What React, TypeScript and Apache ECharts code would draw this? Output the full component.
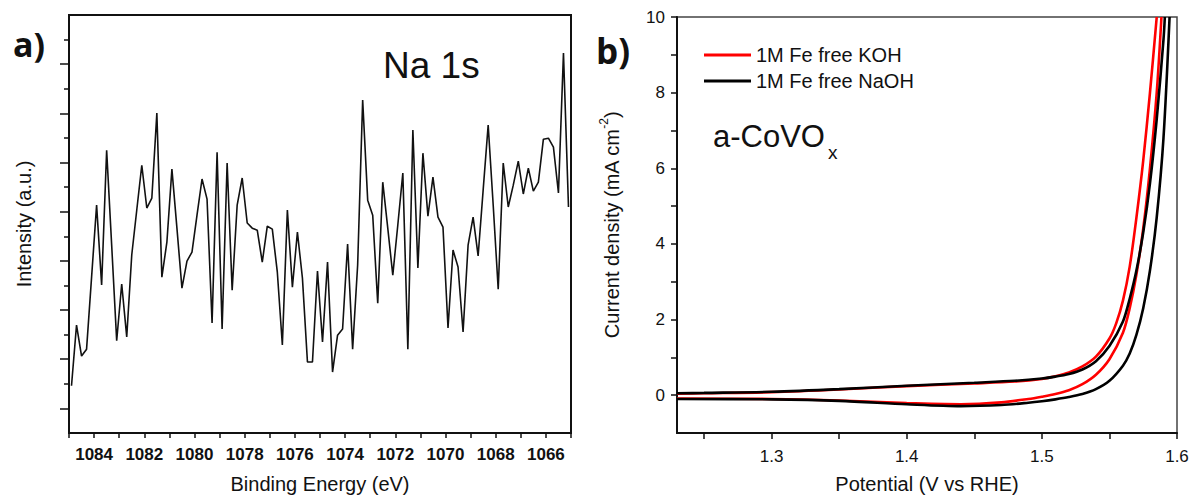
import React, { useEffect, useRef } from "react";
import * as echarts from "echarts";

// ---------- Panel a: Na 1s XPS ----------
const energyA = [
  1084.9, 1084.7, 1084.5, 1084.3, 1084.1, 1083.9, 1083.7, 1083.5, 1083.3, 1083.1,
  1082.9, 1082.7, 1082.5, 1082.3, 1082.1, 1081.9, 1081.7, 1081.5, 1081.3, 1081.1,
  1080.9, 1080.7, 1080.5, 1080.3, 1080.1, 1079.9, 1079.7, 1079.5, 1079.3, 1079.1,
  1078.9, 1078.7, 1078.5, 1078.3, 1078.1, 1077.9, 1077.7, 1077.5, 1077.3, 1077.1,
  1076.9, 1076.7, 1076.5, 1076.3, 1076.1, 1075.9, 1075.7, 1075.5, 1075.3, 1075.1,
  1074.9, 1074.7, 1074.5, 1074.3, 1074.1, 1073.9, 1073.7, 1073.5, 1073.3, 1073.1,
  1072.9, 1072.7, 1072.5, 1072.3, 1072.1, 1071.9, 1071.7, 1071.5, 1071.3, 1071.1,
  1070.9, 1070.7, 1070.5, 1070.3, 1070.1, 1069.9, 1069.7, 1069.5, 1069.3, 1069.1,
  1068.9, 1068.7, 1068.5, 1068.3, 1068.1, 1067.9, 1067.7, 1067.5, 1067.3, 1067.1,
  1066.9, 1066.7, 1066.5, 1066.3, 1066.1, 1065.9, 1065.7, 1065.5, 1065.3, 1065.1,
];
const intensityA = [
  1.92, 4.39, 3.13, 3.41, 6.34, 9.27, 6.02, 11.5, 7.64, 3.75,
  6.06, 3.91, 7.24, 9.07, 10.89, 9.15, 9.55, 13.01, 6.34, 7.76,
  10.73, 8.33, 5.89, 6.99, 7.36, 8.86, 10.33, 9.51, 4.47, 11.42,
  4.23, 10.98, 5.81, 9.27, 10.37, 8.54, 8.33, 8.25, 6.95, 8.41,
  8.29, 6.54, 3.58, 9.07, 5.93, 8.17, 6.3, 2.89, 2.89, 6.59,
  3.7, 6.95, 2.48, 3.98, 4.23, 7.68, 3.41, 6.83, 13.54, 9.47,
  8.86, 5.28, 10.2, 8.33, 6.42, 8.46, 10.57, 3.41, 12.32, 6.71,
  11.38, 8.82, 10.41, 8.78, 8.37, 4.27, 7.44, 6.75, 4.11, 7.64,
  8.78, 7.2, 9.88, 12.52, 9.27, 5.85, 10.98, 9.19, 10.08, 11.06,
  9.72, 10.77, 9.84, 10.2, 11.95, 11.99, 11.63, 9.76, 15.45, 9.19,
];
const xTicksA = [
  1065, 1066, 1067, 1068, 1069, 1070, 1071, 1072, 1073, 1074, 1075,
  1076, 1077, 1078, 1079, 1080, 1081, 1082, 1083, 1084, 1085,
];
const xLabelsA = [1066, 1068, 1070, 1072, 1074, 1076, 1078, 1080, 1082, 1084];
const yMajorTicksA = [1, 3, 5, 7, 9, 11, 13, 15];
const yMinorTicksA = [2, 4, 6, 8, 10, 12, 14, 16];

// ---------- Panel b: polarisation curves ----------
const kohUpX = [1.23, 1.25, 1.3, 1.35, 1.4, 1.45, 1.48, 1.5, 1.51, 1.52, 1.53, 1.54, 1.55, 1.555, 1.56, 1.565, 1.57, 1.575, 1.58, 1.585];
const kohUpY = [0.04, 0.05, 0.08, 0.15, 0.24, 0.31, 0.36, 0.43, 0.5, 0.6, 0.76, 1.02, 1.5, 1.9, 2.5, 3.4, 4.7, 6.2, 8.0, 10];
const kohDownX = [1.23, 1.3, 1.35, 1.4, 1.44, 1.47, 1.49, 1.5, 1.51, 1.52, 1.53, 1.54, 1.55, 1.56, 1.565, 1.57, 1.575, 1.58, 1.585, 1.5885];
const kohDownY = [-0.09, -0.1, -0.14, -0.21, -0.24, -0.19, -0.1, -0.04, 0.03, 0.13, 0.29, 0.54, 0.95, 1.65, 2.3, 3.2, 4.4, 6.0, 8.0, 10];
const naohUpX = [1.23, 1.25, 1.3, 1.35, 1.4, 1.45, 1.48, 1.5, 1.51, 1.52, 1.53, 1.54, 1.55, 1.56, 1.565, 1.57, 1.575, 1.58, 1.585, 1.59, 1.591];
const naohUpY = [0.05, 0.06, 0.09, 0.16, 0.25, 0.33, 0.38, 0.44, 0.49, 0.56, 0.68, 0.9, 1.3, 1.95, 2.55, 3.3, 4.3, 5.6, 7.3, 9.4, 10];
const naohDownX = [1.23, 1.3, 1.35, 1.4, 1.44, 1.47, 1.49, 1.5, 1.51, 1.52, 1.53, 1.54, 1.55, 1.56, 1.565, 1.57, 1.575, 1.58, 1.585, 1.59, 1.5945];
const naohDownY = [-0.1, -0.11, -0.15, -0.24, -0.29, -0.26, -0.2, -0.16, -0.11, -0.05, 0.03, 0.16, 0.38, 0.78, 1.1, 1.6, 2.3, 3.3, 4.7, 6.8, 10];
const xTicksB = [1.25, 1.3, 1.35, 1.4, 1.45, 1.5, 1.55, 1.6];
const xLabelsB = [1.3, 1.4, 1.5, 1.6];
const yTicksB = [0, 1, 2, 3, 4, 5, 6, 7, 8, 9, 10];
const yLabelsB = [0, 2, 4, 6, 8, 10];
const seriesNames = ["1M Fe free KOH", "1M Fe free NaOH"];

const FONT = '"Liberation Sans", Arial, sans-serif';
const INK = "#111";

const zip = (xs: number[], ys: number[]) => xs.map((x, i) => [x, ys[i]]);

export default function App() {
  const ref = useRef<HTMLDivElement>(null);
  useEffect(() => {
    if (!ref.current) return;
    const chart = echarts.init(ref.current, null, { renderer: "svg" });
    const axisLine = { show: true, onZero: false, lineStyle: { color: INK, width: 2 } };
    const curve = (name: string, xs: number[], ys: number[], color: string) => ({
      type: "line",
      name,
      xAxisIndex: 1,
      yAxisIndex: 2,
      data: zip(xs, ys),
      symbol: "none",
      smooth: 0.3,
      color,
      lineStyle: { color, width: 2.6 },
    });
    const option: any = {
      animation: false,
      backgroundColor: "#fff",
      textStyle: { fontFamily: FONT },
      grid: [
        { left: 69, right: 619, top: 15, bottom: 64, show: true, borderColor: INK, borderWidth: 2, containLabel: false, outerBoundsMode: "none" },
        { left: 677, right: 13, top: 17, bottom: 64, show: true, borderColor: "#444", borderWidth: 1.5, containLabel: false, outerBoundsMode: "none" },
      ],
      legend: {
        orient: "vertical",
        left: 699,
        top: 40,
        itemWidth: 47,
        itemHeight: 3,
        icon: "rect",
        itemGap: 6,
        selectedMode: false,
        textStyle: { fontSize: 20, color: INK, fontFamily: FONT, lineHeight: 20 },
        data: seriesNames,
      },
      xAxis: [
        {
          gridIndex: 0,
          type: "value",
          min: 1065,
          max: 1085,
          interval: 1,
          inverse: true,
          axisLine,
          axisTick: { show: true, length: 5, customValues: xTicksA, lineStyle: { color: INK, width: 1.5 } },
          axisLabel: {
            customValues: xLabelsA,
            formatter: (v: number) => String(v),
            fontSize: 17,
            fontWeight: "bold",
            color: INK,
            margin: 13,
            fontFamily: FONT,
          },
          splitLine: { show: false },
          name: "Binding Energy (eV)",
          nameLocation: "middle",
          nameGap: 41,
          nameTextStyle: { fontSize: 20, color: INK, fontFamily: FONT },
        },
        {
          gridIndex: 1,
          type: "value",
          min: 1.23,
          max: 1.6,
          axisLine,
          axisTick: { show: true, length: 6, customValues: xTicksB, lineStyle: { color: INK, width: 1.5 } },
          axisLabel: {
            customValues: xLabelsB,
            formatter: (v: number) => v.toFixed(1),
            fontSize: 17,
            color: INK,
            margin: 15,
            fontFamily: FONT,
          },
          splitLine: { show: false },
          name: "Potential (V vs RHE)",
          nameLocation: "middle",
          nameGap: 41,
          nameTextStyle: { fontSize: 20, color: INK, fontFamily: FONT },
        },
      ],
      yAxis: [
        {
          gridIndex: 0,
          type: "value",
          position: "left",
          min: 0,
          max: 17,
          axisLine,
          axisTick: { show: true, length: 9, customValues: yMajorTicksA, lineStyle: { color: INK, width: 1.5 } },
          axisLabel: { show: false },
          splitLine: { show: false },
          name: "Intensity (a.u.)",
          nameLocation: "middle",
          nameGap: 35,
          nameTextStyle: { fontSize: 20, color: INK, fontFamily: FONT },
        },
        {
          gridIndex: 0,
          type: "value",
          position: "left",
          offset: 0,
          min: 0,
          max: 17,
          axisLine: { show: false },
          axisTick: { show: true, length: 5, customValues: yMinorTicksA, lineStyle: { color: INK, width: 1.5 } },
          axisLabel: { show: false },
          splitLine: { show: false },
        },
        {
          gridIndex: 1,
          type: "value",
          position: "left",
          min: -1,
          max: 10,
          axisLine,
          axisTick: { show: true, length: 6, customValues: yTicksB, lineStyle: { color: INK, width: 1.5 } },
          axisLabel: { customValues: yLabelsB, fontSize: 17, color: INK, margin: 12, fontFamily: FONT },
          splitLine: { show: false },
          name: "{t|Current density (mA cm}{s|-2}{t|)}",
          nameLocation: "middle",
          nameGap: 55,
          nameTextStyle: {
            color: INK,
            fontFamily: FONT,
            rich: {
              t: { fontSize: 20, lineHeight: 24, color: INK, fontFamily: FONT, verticalAlign: "bottom" },
              s: { fontSize: 12, color: INK, fontFamily: FONT, verticalAlign: "top" },
            },
          },
        },
      ],
      series: [
        {
          type: "line",
          name: "Na 1s",
          xAxisIndex: 0,
          yAxisIndex: 0,
          data: zip(energyA, intensityA),
          symbol: "none",
          lineStyle: { color: INK, width: 1.6 },
        },
        curve(seriesNames[0], kohUpX, kohUpY, "#ff0000"),
        curve(seriesNames[0], kohDownX, kohDownY, "#ff0000"),
        curve(seriesNames[1], naohUpX, naohUpY, "#000000"),
        curve(seriesNames[1], naohDownX, naohDownY, "#000000"),
      ],
      graphic: [
        { type: "text", x: 13, y: 44, style: { text: "a)", fontSize: 34, fontWeight: "bold", fontFamily: '"Open Sans", sans-serif', fill: INK, align: "left", verticalAlign: "middle" } },
        { type: "text", x: 596, y: 50, style: { text: "b)", fontSize: 35, fontWeight: "bold", fontFamily: '"Open Sans", sans-serif', fill: INK, align: "left", verticalAlign: "middle" } },
        { type: "text", x: 383, y: 65, style: { text: "Na 1s", fontSize: 37, fontFamily: FONT, fill: INK, align: "left", verticalAlign: "middle" } },
        { type: "text", x: 713, y: 136.5, style: { text: "a-CoVO", fontSize: 31, fontFamily: FONT, fill: INK, align: "left", verticalAlign: "middle" } },
        { type: "text", x: 828, y: 152, style: { text: "x", fontSize: 19, fontFamily: FONT, fill: INK, align: "left", verticalAlign: "middle" } },
      ],
    };
    chart.setOption(option);
    return () => chart.dispose();
  }, []);
  return (
    <div
      ref={ref}
      style={{ position: "absolute", left: 0, top: 0, width: 1190, height: 497, background: "#fff" }}
    />
  );
}
